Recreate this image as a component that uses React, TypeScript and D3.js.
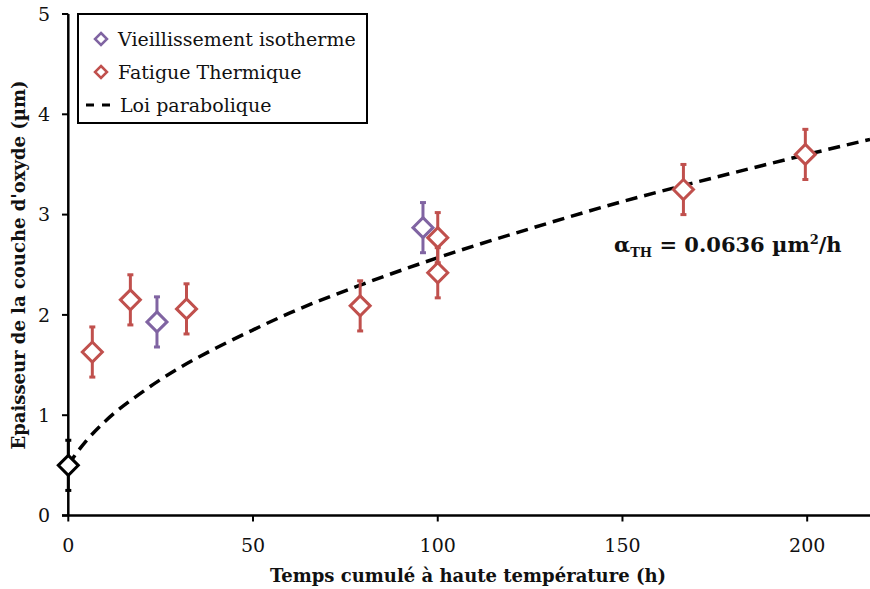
import React from "react";
import * as d3 from "d3";

const xTicks = [0, 50, 100, 150, 200];
const yTicks = [0, 1, 2, 3, 4, 5];

// Vieillissement isotherme
const isoT = [24, 96];
const isoY = [1.93, 2.87];
const isoErr = [0.25, 0.25];

// Fatigue thermique
const fatT = [6.5, 16.8, 32, 79, 100, 100, 166.5, 199.5];
const fatY = [1.63, 2.15, 2.06, 2.09, 2.77, 2.42, 3.25, 3.6];
const fatErr = [0.25, 0.25, 0.25, 0.25, 0.25, 0.25, 0.25, 0.25];

// Initial point
const initT = [0];
const initY = [0.5];
const initErr = [0.25];

// Loi parabolique
const lawT = [0, 2, 5, 10, 20, 30, 40, 50, 60, 80, 100, 125, 150, 175, 200, 217];
const lawY = [0.5, 0.61, 0.75, 0.94, 1.23, 1.47, 1.67, 1.85, 2.02, 2.31, 2.57, 2.86, 3.13, 3.37, 3.6, 3.75];

const legendLabels = ["Vieillissement isotherme", "Fatigue Thermique", "Loi parabolique"];

const W = 870;
const H = 589;
const PURPLE = "#8064A2";
const RED = "#C0504D";
const FONT = "'DejaVu Serif', 'Liberation Serif', serif";

export default function App() {
  const x = d3.scaleLinear().domain([0, 217]).range([68.3, 870]);
  const y = d3.scaleLinear().domain([0, 5]).range([515.5, 14]);

  const line = d3
    .line<number>()
    .x((_, i) => x(lawT[i]))
    .y((d) => y(d))
    .curve(d3.curveMonotoneX);

  const diamond = (cx: number, cy: number, r: number) =>
    `M${cx},${cy - r}L${cx + r},${cy}L${cx},${cy + r}L${cx - r},${cy}Z`;

  const renderSeries = (ts: number[], ys: number[], es: number[], color: string, key: string) =>
    ts.map((t, i) => {
      const cx = x(t);
      const cy = y(ys[i]);
      const yt = y(ys[i] + es[i]);
      const yb = y(ys[i] - es[i]);
      return (
        <g key={key + i}>
          <line x1={cx} x2={cx} y1={yt} y2={yb} stroke={color} strokeWidth={3} />
          <line x1={cx - 3} x2={cx + 3} y1={yt} y2={yt} stroke={color} strokeWidth={3} />
          <line x1={cx - 3} x2={cx + 3} y1={yb} y2={yb} stroke={color} strokeWidth={3} />
          <path d={diamond(cx, cy, 10)} fill="white" stroke={color} strokeWidth={3} />
        </g>
      );
    });

  return (
    <svg width={W} height={H} style={{ position: "absolute", left: 0, top: 0, background: "white" }}>
      <rect x={0} y={0} width={W} height={H} fill="white" />
      {/* curve */}
      <path
        d={line(lawY) || ""}
        fill="none"
        stroke="black"
        strokeWidth={3.5}
        strokeDasharray="12 7"
      />
      {/* axes */}
      <line x1={x(0)} x2={x(0)} y1={y(5)} y2={y(0)} stroke="black" strokeWidth={2.5} />
      <line x1={62} x2={W} y1={y(0)} y2={y(0)} stroke="black" strokeWidth={2.5} />
      {yTicks.map((t) => (
        <g key={"yt" + t}>
          <line x1={62} x2={x(0)} y1={y(t)} y2={y(t)} stroke="black" strokeWidth={2} />
          <text
            x={50}
            y={y(t)}
            dy="0.35em"
            textAnchor="end"
            fontFamily={FONT}
            fontSize={19}
            fill="#111"
          >
            {t}
          </text>
        </g>
      ))}
      {xTicks.map((t) => (
        <g key={"xt" + t}>
          <line x1={x(t)} x2={x(t)} y1={y(0)} y2={y(0) + 6} stroke="black" strokeWidth={2} />
          <text
            x={x(t)}
            y={552}
            textAnchor="middle"
            fontFamily={FONT}
            fontSize={19}
            fill="#111"
          >
            {t}
          </text>
        </g>
      ))}
      {/* series */}
      {renderSeries(initT, initY, initErr, "black", "init")}
      {renderSeries(fatT, fatY, fatErr, RED, "fat")}
      {renderSeries(isoT, isoY, isoErr, PURPLE, "iso")}
      {/* axis titles */}
      <text
        x={468}
        y={582}
        textAnchor="middle"
        fontFamily={FONT}
        fontWeight="bold"
        fontSize={18}
        fill="#111"
      >
        Temps cumulé à haute température (h)
      </text>
      <text
        transform={`translate(25,265) rotate(-90)`}
        textAnchor="middle"
        fontFamily={FONT}
        fontWeight="bold"
        fontSize={18}
        fill="#111"
      >
        Epaisseur de la couche d'oxyde (µm)
      </text>
      {/* annotation */}
      <text x={614} y={252} fontFamily={FONT} fontWeight="bold" fontSize={21} fill="#111">
        α<tspan fontSize={13} dy={5}>TH</tspan>
        <tspan dy={-5}> = 0.0636 µm</tspan>
        <tspan fontSize={13} dy={-8}>2</tspan>
        <tspan dy={8}>/h</tspan>
      </text>
      {/* legend */}
      <rect x={78} y={14} width={289} height={109} fill="white" stroke="black" strokeWidth={2} />
      <path d={diamond(101, 39, 6)} fill="white" stroke={PURPLE} strokeWidth={2.5} />
      <path d={diamond(101, 72, 6)} fill="white" stroke={RED} strokeWidth={2.5} />
      <line x1={86} x2={118} y1={105} y2={105} stroke="black" strokeWidth={3} strokeDasharray="8 8" />
      {legendLabels.map((l, i) => (
        <text
          key={l}
          x={i === 2 ? 120 : 118}
          y={39 + i * 33}
          dy="0.35em"
          fontFamily={FONT}
          fontSize={19}
          fill="#111"
        >
          {l}
        </text>
      ))}
    </svg>
  );
}
